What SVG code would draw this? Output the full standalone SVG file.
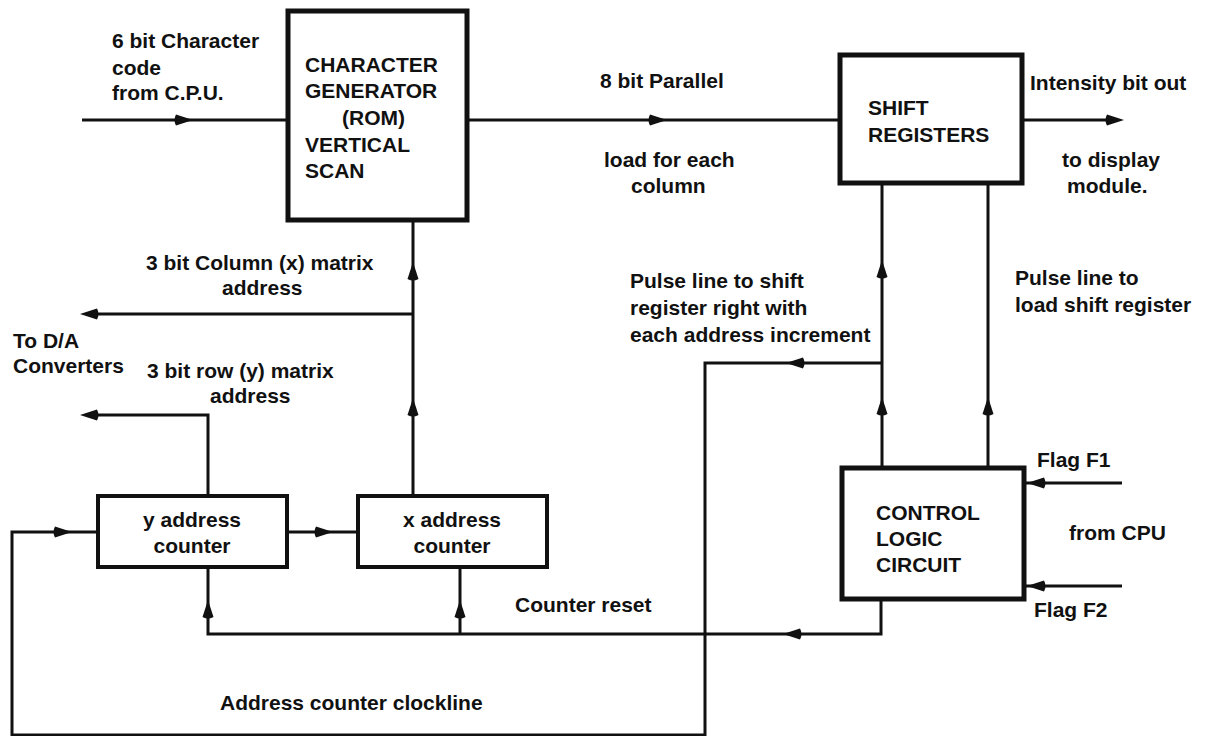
<svg xmlns="http://www.w3.org/2000/svg" xmlns:xlink="http://www.w3.org/1999/xlink" width="1210" height="736" viewBox="0 0 1210 736">
<defs>
<style>
text{font-family:"Liberation Sans",Arial,sans-serif;font-weight:bold;font-size:21px;fill:#111}
.box{fill:none;stroke:#111;stroke-width:5}
.sbox{fill:none;stroke:#111;stroke-width:4}
.ln{fill:none;stroke:#111;stroke-width:3}
.mid{text-anchor:middle}
</style>
<path id="ah" d="M0,0 L-17,-5.5 Q-20,0 -17,5.5 Z" fill="#111"/>
</defs>
<rect width="1210" height="736" fill="#fff"/>

<g id="connectors">
<polyline class="ln" points="82,120 288,120"/>
<polyline class="ln" points="467,120 840,120"/>
<polyline class="ln" points="1022,120 1118,120"/>
<polyline class="ln" points="413,220 413,496"/>
<polyline class="ln" points="413,314 86,314"/>
<polyline class="ln" points="208,496 208,415 86,415"/>
<polyline class="ln" points="287,532 358,532"/>
<polyline class="ln" points="882,183 882,468"/>
<polyline class="ln" points="988,183 988,468"/>
<polyline class="ln" points="882,363 705,363 705,735 12,735 12,532 98,532"/>
<polyline class="ln" points="1122,483 1024,483"/>
<polyline class="ln" points="1122,586 1024,586"/>
<polyline class="ln" points="881,599 881,634 208,634 208,567"/>
<polyline class="ln" points="460,634 460,567"/>
<use xlink:href="#ah" href="#ah" transform="translate(193,120)"/>
<use xlink:href="#ah" href="#ah" transform="translate(667,120)"/>
<use xlink:href="#ah" href="#ah" transform="translate(1124,120)"/>
<use xlink:href="#ah" href="#ah" transform="translate(413,262) rotate(-90)"/>
<use xlink:href="#ah" href="#ah" transform="translate(413,398) rotate(-90)"/>
<use xlink:href="#ah" href="#ah" transform="translate(80,314) rotate(180)"/>
<use xlink:href="#ah" href="#ah" transform="translate(80,415) rotate(180)"/>
<use xlink:href="#ah" href="#ah" transform="translate(333,532)"/>
<use xlink:href="#ah" href="#ah" transform="translate(72,532)"/>
<use xlink:href="#ah" href="#ah" transform="translate(786,363) rotate(180)"/>
<use xlink:href="#ah" href="#ah" transform="translate(882,260) rotate(-90)"/>
<use xlink:href="#ah" href="#ah" transform="translate(882,397) rotate(-90)"/>
<use xlink:href="#ah" href="#ah" transform="translate(988,397) rotate(-90)"/>
<use xlink:href="#ah" href="#ah" transform="translate(1027,483) rotate(180)"/>
<use xlink:href="#ah" href="#ah" transform="translate(1027,586) rotate(180)"/>
<use xlink:href="#ah" href="#ah" transform="translate(783,634) rotate(180)"/>
<use xlink:href="#ah" href="#ah" transform="translate(208,600) rotate(-90)"/>
<use xlink:href="#ah" href="#ah" transform="translate(460,600) rotate(-90)"/>
</g>

<g id="labels">
<text x="112" y="48">6 bit Character</text>
<text x="112" y="75">code</text>
<text x="112" y="100">from C.P.U.</text>
<text x="600" y="88">8 bit Parallel</text>
<text x="604" y="167">load for each</text>
<text x="631" y="193">column</text>
<text x="1030" y="90">Intensity bit out</text>
<text x="1062" y="167">to display</text>
<text x="1067" y="193">module.</text>
<text x="146" y="270">3 bit Column (x) matrix</text>
<text x="222" y="295">address</text>
<text x="13" y="348">To D/A</text>
<text x="13" y="373">Converters</text>
<text x="147" y="378">3 bit row (y) matrix</text>
<text x="210" y="403">address</text>
<text x="630" y="288">Pulse line to shift</text>
<text x="630" y="315">register right with</text>
<text x="630" y="342">each address increment</text>
<text x="1015" y="285">Pulse line to</text>
<text x="1015" y="312">load shift register</text>
<text x="1037" y="467">Flag F1</text>
<text x="1069" y="540">from CPU</text>
<text x="1034" y="617">Flag F2</text>
<text x="515" y="612">Counter reset</text>
<text x="220" y="710">Address counter clockline</text>
</g>

<g id="chargen">
<rect class="box" x="288" y="11" width="179" height="209"/>
<text x="305" y="72">CHARACTER</text>
<text x="305" y="98">GENERATOR</text>
<text x="342" y="125">(ROM)</text>
<text x="305" y="152">VERTICAL</text>
<text x="305" y="178">SCAN</text>
</g>

<g id="shiftreg">
<rect class="box" x="840" y="55" width="182" height="128"/>
<text x="868" y="115">SHIFT</text>
<text x="868" y="142">REGISTERS</text>
</g>

<g id="control">
<rect class="box" x="842" y="468" width="182" height="131"/>
<text x="876" y="520">CONTROL</text>
<text x="876" y="546">LOGIC</text>
<text x="876" y="572">CIRCUIT</text>
</g>

<g id="ycounter">
<rect class="sbox" x="98" y="496" width="189" height="71"/>
<text class="mid" x="192" y="527">y address</text>
<text class="mid" x="192" y="553">counter</text>
</g>

<g id="xcounter">
<rect class="sbox" x="358" y="496" width="189" height="71"/>
<text class="mid" x="452" y="527">x address</text>
<text class="mid" x="452" y="553">counter</text>
</g>
</svg>
